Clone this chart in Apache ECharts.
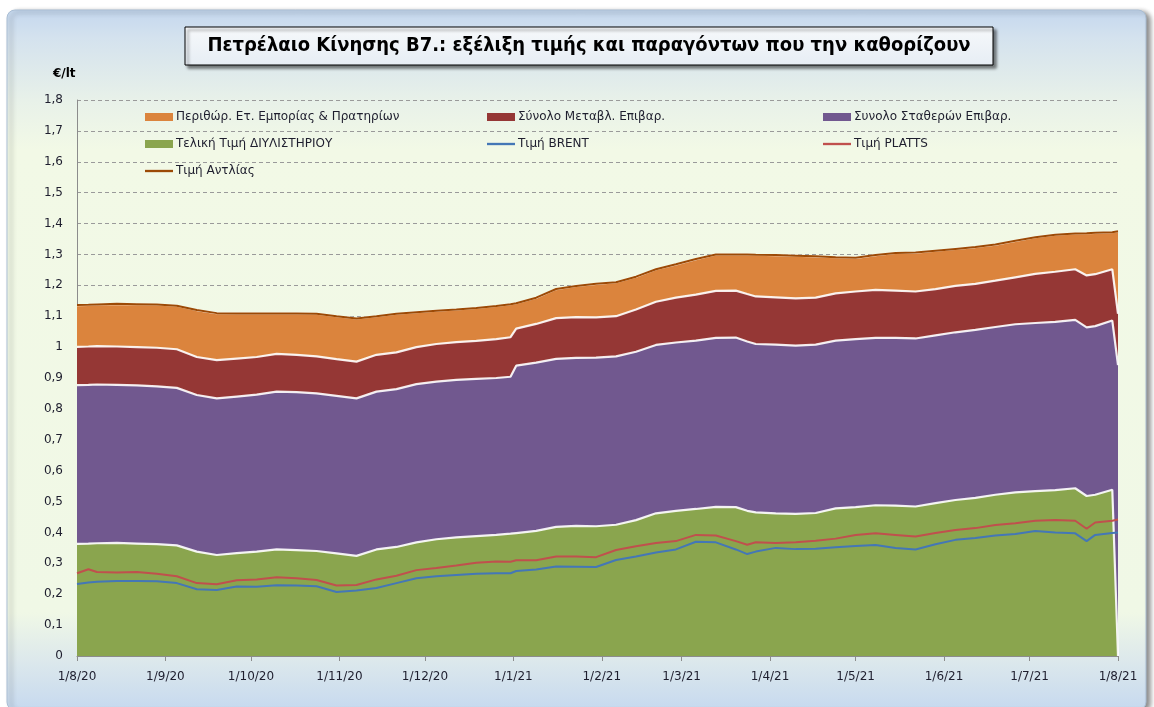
<!DOCTYPE html>
<html><head><meta charset="utf-8">
<script src="https://cdn.jsdelivr.net/npm/echarts@6/dist/echarts.min.js"></script>
<style>html,body{margin:0;padding:0;background:#fff}#c{width:1154px;height:707px}</style>
</head><body><div id="c"></div>
<script>
const dates = ['2020-08-01','2020-08-05','2020-08-08','2020-08-15','2020-08-22','2020-08-29','2020-09-05','2020-09-12','2020-09-19','2020-09-26',
'2020-10-03','2020-10-10','2020-10-17','2020-10-24','2020-10-31','2020-11-07','2020-11-14','2020-11-21','2020-11-28',
'2020-12-05','2020-12-12','2020-12-19','2020-12-26','2020-12-31','2021-01-02','2021-01-09','2021-01-16','2021-01-23','2021-01-30',
'2021-02-06','2021-02-13','2021-02-20','2021-02-27','2021-03-06','2021-03-13','2021-03-20','2021-03-24','2021-03-27',
'2021-04-03','2021-04-10','2021-04-17','2021-04-24','2021-05-01','2021-05-08','2021-05-15','2021-05-22','2021-05-29',
'2021-06-05','2021-06-12','2021-06-19','2021-06-26','2021-07-03','2021-07-10','2021-07-17','2021-07-21','2021-07-24','2021-07-30','2021-08-01'];
// Τελική Τιμή ΔΙΥΛΙΣΤΗΡΙΟΥ
const refinery = [.363,.364,.365,.366,.364,.362,.358,.338,.327,.333,
.338,.345,.343,.340,.332,.324,.345,.353,.368,
.378,.384,.388,.392,.396,.398,.405,.418,.421,.420,
.425,.440,.462,.470,.476,.483,.482,.470,.465,
.462,.460,.463,.478,.482,.488,.487,.484,.495,
.505,.512,.522,.530,.534,.537,.543,.518,.522,.538,0];
// Συνολο Σταθερών Επιβαρ.
const fixedTax = [.514,.514,.514,.512,.512,.511,.510,.507,.507,.507,
.508,.511,.511,.510,.510,.510,.511,.511,.512,
.510,.510,.509,.508,.508,.542,.545,.544,.544,.546,
.545,.545,.545,.545,.545,.547,.549,.548,.545,
.546,.545,.545,.543,.544,.542,.543,.544,.543,
.543,.544,.543,.544,.544,.545,.545,.546,.546,.548,.942];
// Σύνολο Μεταβλ. Επιβαρ.
const varTax = [.124,.124,.124,.124,.124,.125,.125,.123,.124,.123,
.122,.122,.121,.120,.119,.119,.119,.119,.120,
.122,.122,.123,.126,.128,.120,.125,.132,.132,.130,
.130,.137,.140,.145,.149,.152,.152,.154,.154,
.153,.153,.152,.153,.154,.155,.153,.152,.150,
.150,.149,.150,.152,.159,.162,.164,.168,.168,.166,.166];
// Περιθώρ. Ετ. Εμπορίας & Πρατηρίων
const margin = [.135,.135,.135,.138,.139,.140,.141,.152,.152,.146,
.141,.131,.134,.138,.139,.140,.125,.125,.113,
.108,.106,.107,.107,.107,.082,.085,.094,.101,.109,
.110,.106,.105,.108,.115,.118,.117,.128,.135,
.137,.138,.134,.117,.109,.113,.122,.126,.124,
.120,.119,.117,.118,.119,.120,.116,.137,.134,.120,.267];
// Τιμή Αντλίας
const pump = [1.136,1.137,1.138,1.140,1.139,1.138,1.134,1.120,1.110,1.109,
1.109,1.109,1.109,1.108,1.100,1.093,1.100,1.108,1.113,
1.118,1.122,1.127,1.133,1.139,1.142,1.160,1.188,1.198,1.205,
1.210,1.228,1.252,1.268,1.285,1.300,1.300,1.300,1.299,
1.298,1.296,1.294,1.291,1.289,1.298,1.305,1.306,1.312,
1.318,1.324,1.332,1.344,1.356,1.364,1.368,1.369,1.370,1.372,1.375];
// Τιμή PLATTS
const platts = [.268,.281,.272,.270,.272,.266,.258,.236,.232,.245,
.248,.255,.252,.246,.228,.230,.248,.260,.278,
.285,.293,.302,.306,.305,.310,.310,.322,.322,.320,
.343,.355,.366,.372,.392,.390,.372,.360,.368,
.366,.368,.373,.380,.392,.397,.392,.387,.398,
.408,.414,.424,.430,.438,.440,.438,.412,.432,.438,.442];
// Τιμή BRENT
const brent = [.233,.238,.240,.243,.243,.242,.236,.216,.214,.225,
.224,.229,.228,.226,.207,.212,.220,.236,.252,
.258,.262,.266,.268,.268,.275,.280,.290,.289,.288,
.311,.322,.335,.345,.370,.368,.345,.330,.338,
.350,.346,.347,.352,.356,.359,.350,.345,.362,
.376,.382,.390,.395,.405,.400,.397,.372,.392,.398,.400];
const yTicks = ['0','0,1','0,2','0,3','0,4','0,5','0,6','0,7','0,8','0,9','1','1,1','1,2','1,3','1,4','1,5','1,6','1,7','1,8'];

const pair = arr => arr.map((v,i)=>[dates[i], v]);
const FONT = 'DejaVu Sans';
const chart = echarts.init(document.getElementById('c'), null, {renderer:'canvas'});
function areaSeries(name, data, color){
  return {name, type:'line', stack:'total', data:pair(data), symbol:'none', smooth:false,
    lineStyle:{color:'#ffffff', width:2.2, opacity:0.9}, areaStyle:{color, opacity:1}, itemStyle:{color},
    emphasis:{disabled:true}, z:2};
}
function lineSeries(name, data, color, width, z){
  return {name, type:'line', data:pair(data), symbol:'none', smooth:false,
    lineStyle:{color, width}, itemStyle:{color}, emphasis:{disabled:true}, z};
}
const legendCommon = {orient:'vertical', itemWidth:28, itemHeight:8, itemGap:15, icon:'rect',
  textStyle:{fontFamily:FONT, fontSize:12, color:'#1e1e2e', padding:[0,0,0,-2]}, selectedMode:false};
const LINE_ICON = 'path://M0,0 L30,0 L30,2.5 L0,2.5 Z';
const option = {
  animation:false,
  graphic:[
    {type:'rect', z:-10, shape:{x:7,y:10,width:1139,height:700,r:8},
      style:{fill:new echarts.graphic.LinearGradient(0,0,0,1,[
        {offset:0,color:'#c4d7ee'},{offset:0.04,color:'#d4e2ee'},{offset:0.13,color:'#e8f1e9'},{offset:0.2,color:'#f2f9e6'},
        {offset:0.86,color:'#f0f8e6'},{offset:0.93,color:'#dce8ec'},{offset:1,color:'#c6d9ef'}]),
        stroke:'#a9bdd3', lineWidth:1, shadowColor:'rgba(0,0,0,0.45)', shadowBlur:5, shadowOffsetX:4, shadowOffsetY:2}},
    {type:'rect', z:100, shape:{x:185,y:27,width:808,height:38},
      style:{fill:new echarts.graphic.LinearGradient(0,0,0,1,[{offset:0,color:'#f7f9fb'},{offset:1,color:'#e6edf4'}]),
        stroke:'#000', lineWidth:1, shadowColor:'rgba(0,0,0,0.5)', shadowBlur:3, shadowOffsetX:3, shadowOffsetY:3}},
    {type:'text', z:101, x:589, y:46, style:{text:'Πετρέλαιο Κίνησης Β7.: εξέλιξη τιμής και παραγόντων που την καθορίζουν',
      font:'bold 20px "Liberation Sans Narrow", "Arial Narrow", "DejaVu Sans Condensed", sans-serif', fill:'#000', align:'center', verticalAlign:'middle'}},
    {type:'text', z:101, x:53, y:68, style:{text:'€/lt', font:'bold 12px "DejaVu Sans"', fill:'#000'}}
  ],
  grid:{left:77, right:36, top:100, bottom:51, containLabel:false},
  legend:[
    Object.assign({}, legendCommon, {left:140, top:106, data:[
      {name:'Περιθώρ. Ετ. Εμπορίας & Πρατηρίων', icon:'rect'},
      {name:'Τελική Τιμή ΔΙΥΛΙΣΤΗΡΙΟΥ', icon:'rect'},
      {name:'Τιμή Αντλίας', icon:LINE_ICON}]}),
    Object.assign({}, legendCommon, {left:482, top:106, data:[
      {name:'Σύνολο Μεταβλ. Επιβαρ.', icon:'rect'},
      {name:'Τιμή BRENT', icon:LINE_ICON}]}),
    Object.assign({}, legendCommon, {left:818, top:106, data:[
      {name:'Συνολο Σταθερών Επιβαρ.', icon:'rect'},
      {name:'Τιμή PLATTS', icon:LINE_ICON}]})
  ],
  xAxis:{type:'time', min:'2020-08-01', max:'2021-08-01', splitNumber:12,
    axisLine:{lineStyle:{color:'#8c8c8c'}}, axisTick:{show:true, length:5, lineStyle:{color:'#8c8c8c'}},
    splitLine:{show:false}, minorTick:{show:false},
    axisLabel:{fontFamily:FONT, fontSize:12, color:'#1e1e2e', margin:15, hideOverlap:false, showMinLabel:true, showMaxLabel:true,
      formatter:function(v){const d=new Date(v);return d.getDate()+'/'+(d.getMonth()+1)+'/'+String(d.getFullYear()).slice(2);}}},
  yAxis:{type:'value', min:0, max:1.8, interval:0.1,
    axisLine:{show:true, lineStyle:{color:'#8c8c8c'}}, axisTick:{show:false},
    splitLine:{show:true, lineStyle:{color:'#9a9a9a', type:[4,3], width:1}},
    axisLabel:{fontFamily:FONT, fontSize:12, color:'#1e1e2e', margin:14,
      formatter:function(v){return yTicks[Math.round(v*10)];}}},
  series:[
    areaSeries('Τελική Τιμή ΔΙΥΛΙΣΤΗΡΙΟΥ', refinery, '#8aa54e'),
    areaSeries('Συνολο Σταθερών Επιβαρ.', fixedTax, '#71588f'),
    areaSeries('Σύνολο Μεταβλ. Επιβαρ.', varTax, '#953735'),
    areaSeries('Περιθώρ. Ετ. Εμπορίας & Πρατηρίων', margin, '#db843d'),
    lineSeries('Τιμή BRENT', brent, '#4477b6', 2, 5),
    lineSeries('Τιμή PLATTS', platts, '#c0504d', 2, 5),
    lineSeries('Τιμή Αντλίας', pump, '#9c4a06', 2, 6)
  ]
};
chart.setOption(option);
</script></body></html>
